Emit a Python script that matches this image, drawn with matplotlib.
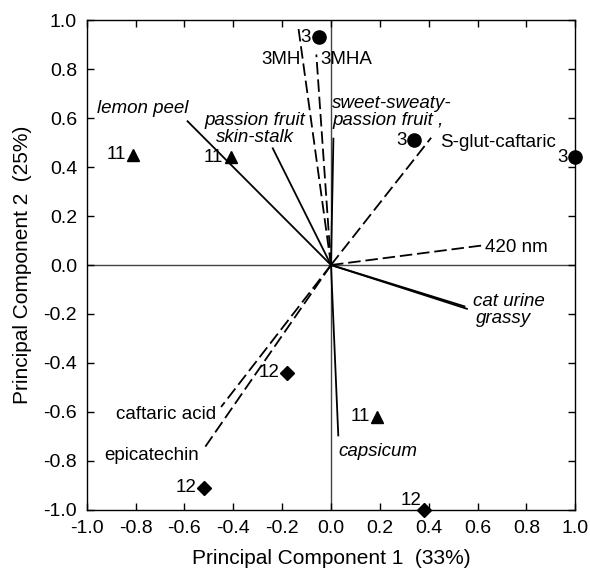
import matplotlib
matplotlib.use("Agg")
import matplotlib.pyplot as plt

plt.rcParams['font.family'] = ['Liberation Sans', 'DejaVu Sans']
plt.rcParams['lines.scale_dashes'] = False

# sample scores
score_x = [-0.05, 0.34, 1.0, -0.81, -0.41, 0.19, -0.18, -0.52, 0.38]
score_y = [0.93, 0.51, 0.44, 0.45, 0.44, -0.62, -0.44, -0.91, -1.0]
score_lab = ["3", "3", "3", "11", "11", "11", "12", "12", "12"]

# sensory attributes (solid vectors)
sens_names = ["lemon peel", "passion fruit\nskin-stalk", "sweet-sweaty-\npassion fruit ,",
              "cat urine", "grassy", "capsicum"]
sens_x = [-0.59, -0.24, 0.01, 0.56, 0.55, 0.03]
sens_y = [0.59, 0.48, 0.52, -0.18, -0.17, -0.70]

# chemical measures (dashed vectors)
chem_names = ["3MH", "3MHA", "S-glut-caftaric", "420 nm", "caftaric acid", "epicatechin"]
chem_x = [-0.135, -0.06, 0.41, 0.62, -0.45, -0.52]
chem_y = [0.98, 0.86, 0.52, 0.08, -0.58, -0.75]

marker_for = {"3": "o", "11": "^", "12": "D"}
msize_for = {"3": 9.5, "11": 9, "12": 7.5}

# label placement: (x, y, ha)
sens_txt = {
    "lemon peel": (-0.585, 0.64, "right"),
    "passion fruit\nskin-stalk": (-0.31, 0.555, "center"),
    "sweet-sweaty-\npassion fruit ,": (0.005, 0.625, "left"),
    "cat urine": (0.58, -0.15, "left"),
    "grassy": (0.595, -0.22, "left"),
    "capsicum": (0.03, -0.76, "left"),
}
chem_txt = {
    "3MH": (-0.125, 0.84, "right"),
    "3MHA": (-0.045, 0.84, "left"),
    "S-glut-caftaric": (0.447, 0.50, "left"),
    "420 nm": (0.63, 0.073, "left"),
    "caftaric acid": (-0.47, -0.61, "right"),
    "epicatechin": (-0.54, -0.78, "right"),
}
score_off = {8: (-2, 7)}

fs = 13.5

fig = plt.figure(figsize=(5.9, 5.78), dpi=100)
ax = fig.add_axes([0.147, 0.118, 0.828, 0.847])

ax.axhline(0, color="#444444", lw=1.0, zorder=1)
ax.axvline(0, color="#444444", lw=1.0, zorder=1)

for nm, x, y in zip(sens_names, sens_x, sens_y):
    ax.plot([0, x], [0, y], color="black", lw=1.3, solid_capstyle="butt", zorder=2)
    tx, ty, ha = sens_txt[nm]
    ax.text(tx, ty, nm, ha=ha, va="center", style="italic", fontsize=fs,
            multialignment=ha, linespacing=0.95)

for nm, x, y in zip(chem_names, chem_x, chem_y):
    ax.plot([0, x], [0, y], color="black", lw=1.3, dashes=(9, 3.5), zorder=2)
    tx, ty, ha = chem_txt[nm]
    ax.text(tx, ty, nm, ha=ha, va="center", fontsize=fs)

for i, (x, y, lab) in enumerate(zip(score_x, score_y, score_lab)):
    ax.plot(x, y, marker=marker_for[lab], ms=msize_for[lab], color="black",
            ls="none", clip_on=False, zorder=4)
    dx, dy = score_off.get(i, (-5.5, 0))
    ax.annotate(lab, (x, y), xytext=(dx, dy), textcoords="offset points",
                ha="right", va="center", fontsize=fs)

ax.set_xlim(-1.0, 1.0)
ax.set_ylim(-1.0, 1.0)
ticks = [-1.0, -0.8, -0.6, -0.4, -0.2, 0.0, 0.2, 0.4, 0.6, 0.8, 1.0]
ax.set_xticks(ticks)
ax.set_yticks(ticks)
ax.set_xticklabels([f"{t:.1f}" for t in ticks])
ax.set_yticklabels([f"{t:.1f}" for t in ticks])
ax.tick_params(direction="in", length=5, width=1, top=True, right=True,
               labelsize=14, pad=7)
for s in ax.spines.values():
    s.set_linewidth(1.0)

ax.set_xlabel("Principal Component 1  (33%)", fontsize=15, labelpad=9)
ax.set_ylabel("Principal Component 2  (25%)", fontsize=15, labelpad=8)

fig.savefig("out.png", dpi=100)
